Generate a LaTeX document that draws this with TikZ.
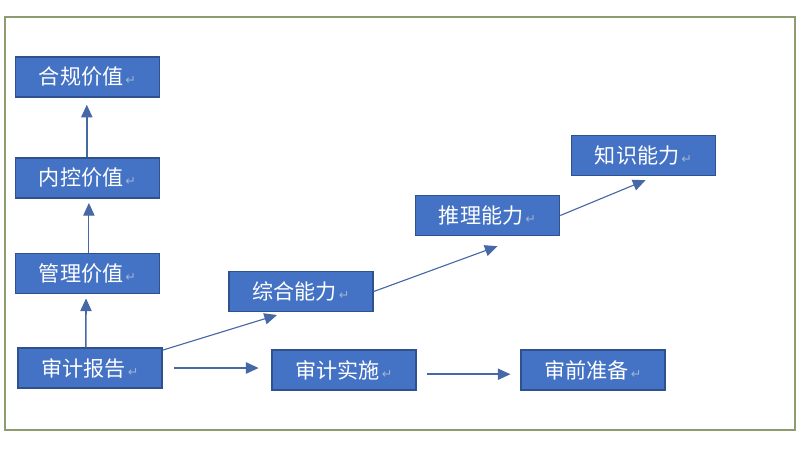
\documentclass[tikz,border=0pt]{standalone}
\usepackage{fontspec}
\setmainfont{Noto Sans CJK SC}
\newfontfamily\markfont{DejaVu Sans}
\usetikzlibrary{arrows.meta}

\definecolor{boxblue}{HTML}{4472C4}
\definecolor{boxedge}{HTML}{2F528F}
\definecolor{arrowblue}{HTML}{4668A6}
\definecolor{framegreen}{HTML}{8C9C6E}
\definecolor{markgray}{HTML}{9FB3D6}

\newcommand{\pmark}{{\markfont\fontsize{9pt}{9pt}\selectfont\color{markgray}\,↵}}

\begin{document}
\begin{tikzpicture}[x=0.025cm, y=-0.025cm,
	stage/.style={draw=boxedge, line width=1pt, fill=boxblue, text=white,
		minimum width=3.6cm, minimum height=1cm, inner sep=0pt,
		font=\fontsize{15pt}{15pt}\selectfont},
	link/.style={draw=arrowblue, line width=1.1pt,
		-{Triangle[length=9pt, width=8pt]}},
	slant/.style={link, line width=0.8pt}]
	\useasboundingbox (0, 0) rectangle (803, 450);

	%% outer frame
	\draw[framegreen, line width=1pt] (5, 17) rectangle (795, 430);

	%% value column
	\node[stage] (hg) at (87.5, 77)  {合规价值\pmark};
	\node[stage] (nk) at (87.5, 178) {内控价值\pmark};
	\node[stage] (gl) at (87.5, 273.5) {管理价值\pmark};

	%% audit row
	\node[stage] (bg) at (90, 368)  {审计报告\pmark};
	\node[stage] (ss) at (344, 370) {审计实施\pmark};
	\node[stage] (zb) at (593, 370) {审前准备\pmark};

	%% ability steps
	\node[stage] (zh) at (301, 291.5) {综合能力\pmark};
	\node[stage] (tl) at (487.5, 215.5) {推理能力\pmark};
	\node[stage] (zs) at (643.5, 155.5) {知识能力\pmark};

	%% value arrows
	\draw[link, shorten >=5pt] ([xshift=-0.5pt]nk.north) -- ([xshift=-0.5pt]hg.south);
	\draw[link, line width=0.8pt, shorten >=3pt] ([xshift=1pt]gl.north) -- ([xshift=1pt]nk.south);
	\draw[link, shorten >=3pt] ([xshift=-3pt]bg.north) -- ([xshift=-1pt]gl.south);

	%% audit arrows
	\draw[link, shorten <=8pt, shorten >=9pt] (bg.east) -- (ss.west |- bg.east);
	\draw[link, shorten <=7pt, shorten >=7pt] ([yshift=-3pt]ss.east) -- ([yshift=-3pt]ss.east -| zb.west);

	%% ability arrows
	\draw[slant] ([yshift=-2pt]bg.north east) -- ([xshift=-0.6cm, yshift=-2pt]zh.south);
	\draw[slant] (zh.east) -- ([xshift=0.25cm, yshift=-0.25cm]tl.south);
	\draw[slant] (tl.east) -- ([xshift=0.05cm, yshift=-0.1cm]zs.south);
\end{tikzpicture}
\end{document}
